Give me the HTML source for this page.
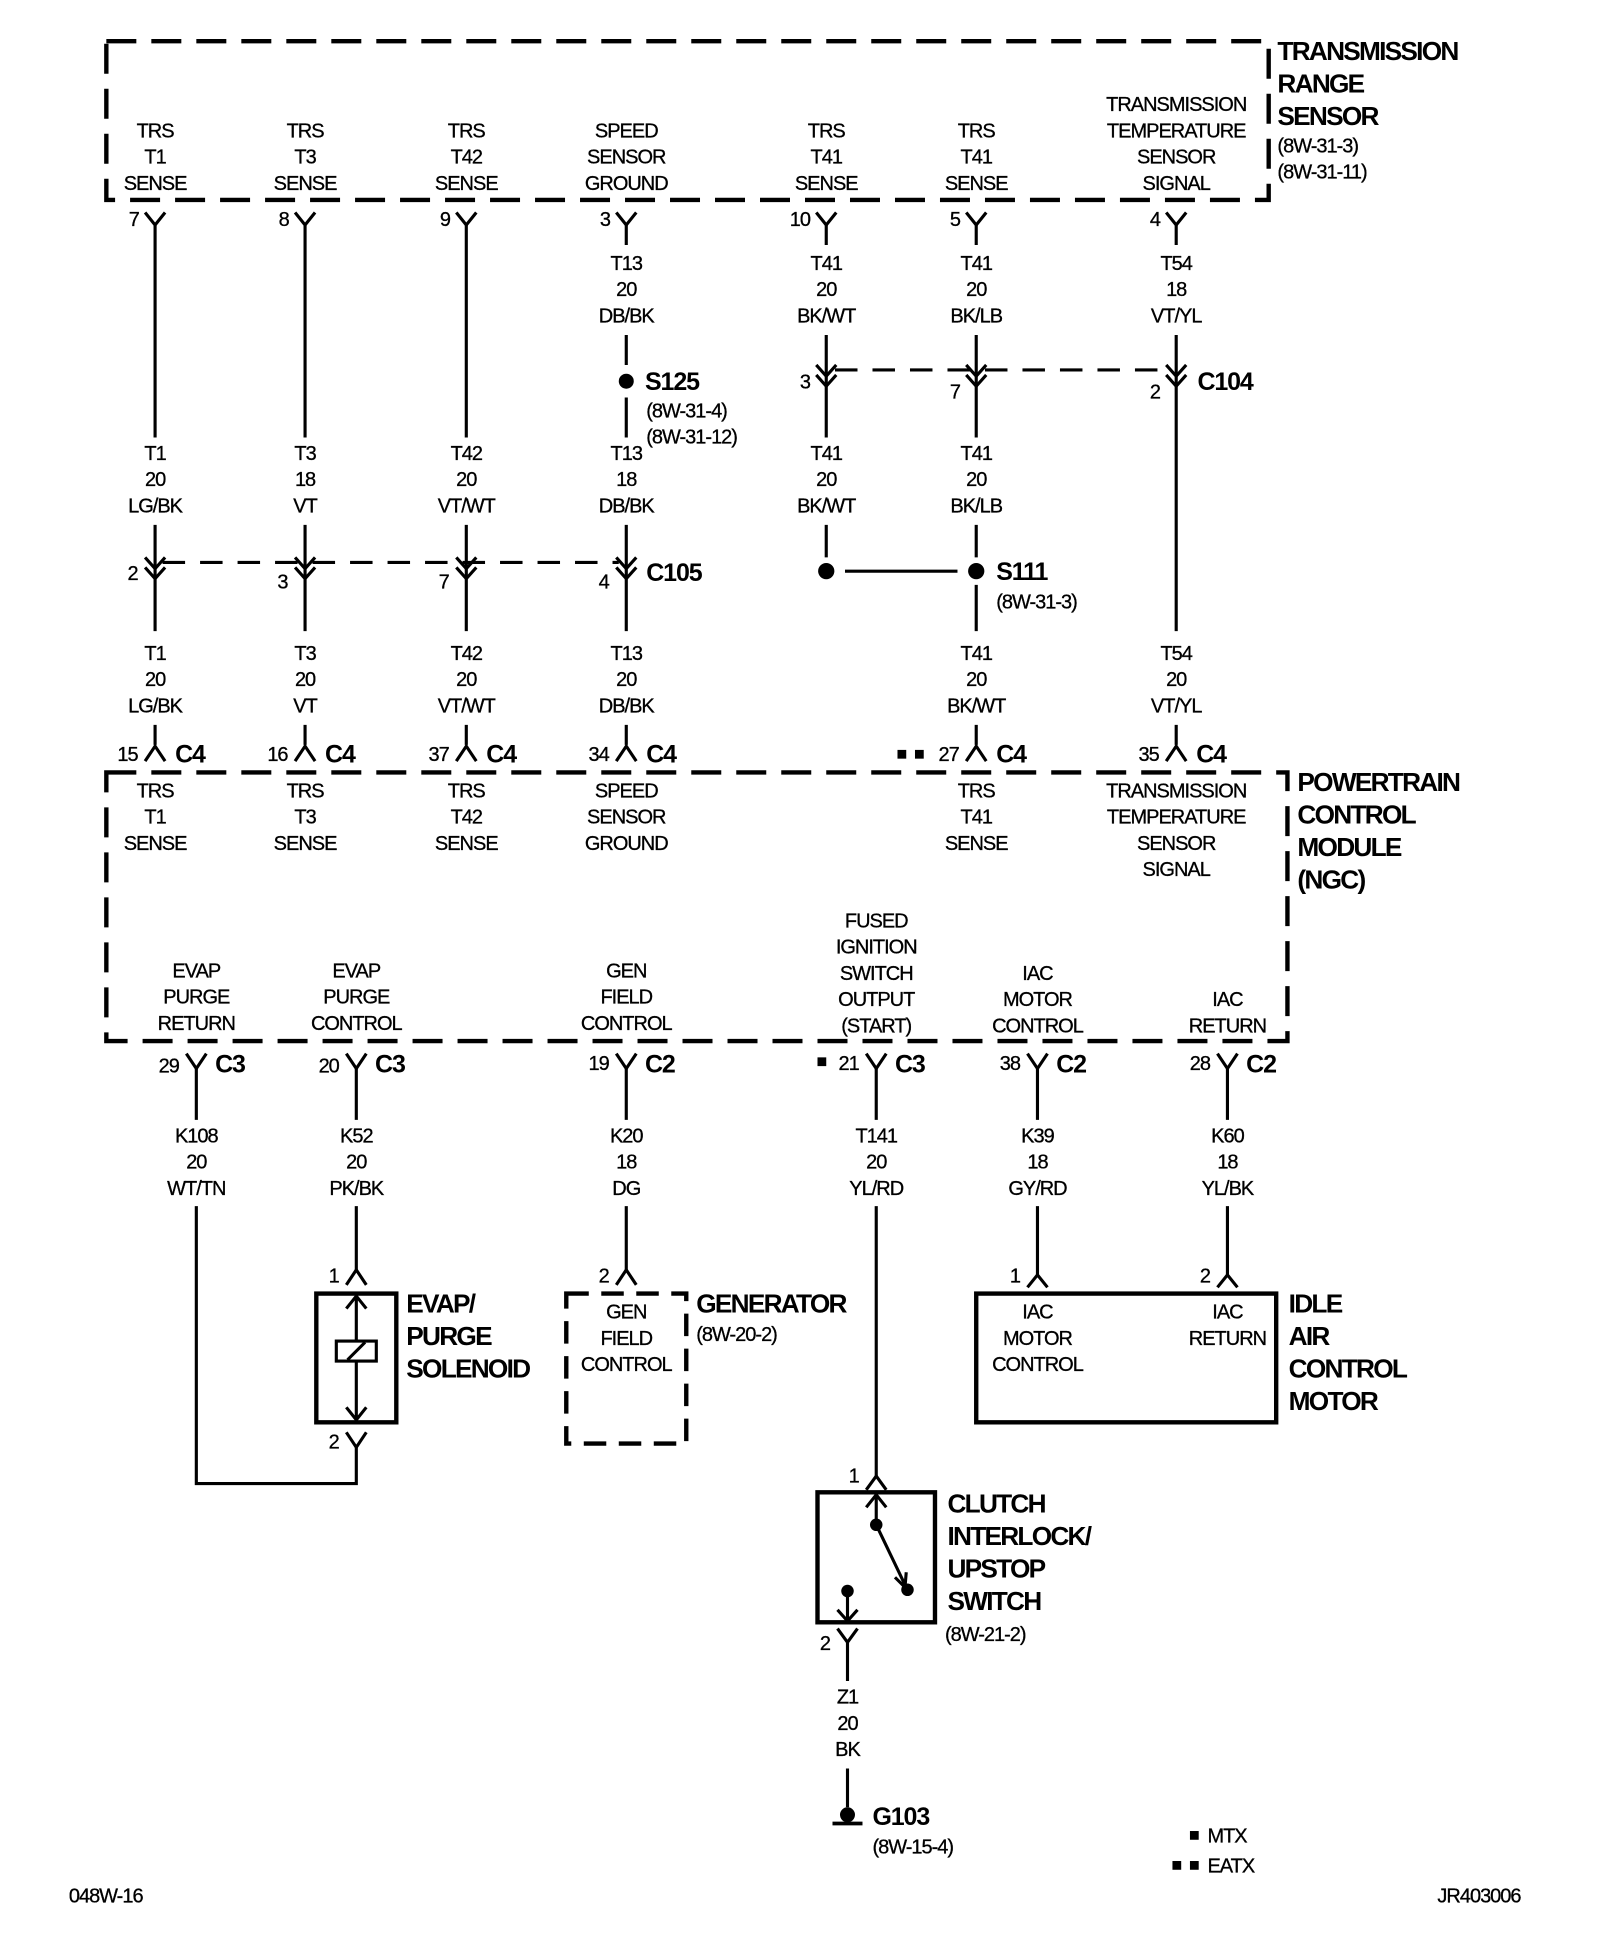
<!DOCTYPE html>
<html><head><meta charset="utf-8"><style>
html,body{margin:0;padding:0;background:#fff;}
svg{display:block}
text{font-family:"Liberation Sans",Arial,sans-serif;font-size:16px;letter-spacing:-0.8px;fill:#000;stroke:#000;stroke-width:0.25px;text-anchor:middle}
.b{font-weight:bold;font-size:21px;text-anchor:start;letter-spacing:-1.4px;stroke-width:0}
.l{text-anchor:start}
.r{text-anchor:end}
.c{font-weight:bold;font-size:20px;text-anchor:start;letter-spacing:-0.9px;stroke-width:0}
</style></head><body>
<svg width="1600" height="1956" viewBox="0 0 1280 1565" xmlns="http://www.w3.org/2000/svg">
<g fill="none" stroke="#000" stroke-width="2.5">
<rect x="85" y="33" width="930" height="127" stroke-width="3.5" stroke-dasharray="24,12"/>
<rect x="85" y="618" width="945" height="215" stroke-width="3.5" stroke-dasharray="24,12"/>
<path d="M116 170L124 180L132 170M236 170L244 180L252 170M365 170L373 180L381 170M493 170L501 180L509 170M653 170L661 180L669 170M773 170L781 180L789 170M933 170L941 180L949 170"/>
<path d="M124 180V350M244 180V350M373 180V350"/>
<path d="M501 180V196M501 268V292M501 318V350M661 180V196M781 180V196M941 180V196"/>
<path d="M661 268V350M781 268V350M941 268V505"/>
<path d="M653 292L661 301L669 292M653 300L661 309L669 300M773 292L781 301L789 292M773 300L781 309L789 300M933 292L941 301L949 292M933 300L941 309L949 300"/>
<path d="M668 296H935" stroke-dasharray="18,12"/>
<path d="M661 420V446M781 420V446M781 468V505M676 457H766"/>
<path d="M124 420V505M244 420V505M373 420V505M501 420V505"/>
<path d="M116 446L124 455L132 446M116 454L124 463L132 454M236 446L244 455L252 446M236 454L244 463L252 454M365 446L373 455L381 446M365 454L373 463L381 454M493 446L501 455L509 446M493 454L501 463L509 454"/>
<path d="M130 450H495" stroke-dasharray="18,12"/>
<path d="M124 580V596M244 580V596M373 580V596M501 580V596M781 580V596M941 580V596"/>
<path d="M116 609L124 597L132 609M236 609L244 597L252 609M365 609L373 597L381 609M493 609L501 597L509 609M773 609L781 597L789 609M933 609L941 597L949 609"/>
<path d="M149 843L157 855L165 843M277 843L285 855L293 843M493 843L501 855L509 843M693 843L701 855L709 843M822 843L830 855L838 843M974 843L982 855L990 843"/>
<path d="M157 855V896M285 855V896M501 855V896M701 855V896M830 855V896M982 855V896"/>
<path d="M157 965V1187H285V1158M285 965V1016M501 965V1016M701 965V1181M830 965V1021M982 965V1021"/>
<path d="M277 1028L285 1016L293 1028M493 1028L501 1016L509 1028M693 1192L701 1181L709 1192M822 1030L830 1020L838 1030M974 1030L982 1020L990 1030"/>
<rect x="253" y="1035" width="64" height="103" stroke-width="3.5"/>
<path d="M285 1037V1136M277 1047L285 1037L293 1047M277 1126L285 1136L293 1126"/>
<rect x="269" y="1073" width="32" height="16" fill="#fff"/>
<path d="M278 1088L292 1074"/>
<path d="M277 1146L285 1158L293 1146"/>
<rect x="453" y="1035" width="96" height="120" stroke-width="3.5" stroke-dasharray="18,10"/>
<rect x="781" y="1035" width="240" height="103" stroke-width="3.5"/>
<rect x="654" y="1194" width="94" height="104" stroke-width="3.5"/>
<path d="M701 1196V1220M693 1206L701 1196L709 1206M701 1220L724 1268M716 1262L724 1270L725 1258"/>
<path d="M678 1273V1297M670 1288L678 1297L686 1288M670 1303L678 1314L686 1303M678 1314V1345M678 1415V1446"/>
<path d="M666 1459H690" stroke-width="3"/>
</g>
<g fill="#000">
<circle cx="501" cy="305" r="6"/>
<circle cx="661" cy="457" r="6.5"/><circle cx="781" cy="457" r="6.5"/>
<circle cx="701" cy="1220" r="5"/><circle cx="726" cy="1272" r="5"/><circle cx="678" cy="1273" r="5"/>
<circle cx="678" cy="1452" r="6"/>
<rect x="718" y="600" width="7" height="7"/><rect x="732" y="600" width="7" height="7"/>
<rect x="654" y="846" width="7" height="7"/>
<rect x="952" y="1465" width="7" height="7"/>
<rect x="938" y="1489" width="7" height="7"/><rect x="952" y="1489" width="7" height="7"/>
</g>
<text x="124" y="110">TRS</text><text x="124" y="131">T1</text><text x="124" y="152">SENSE</text>
<text x="244" y="110">TRS</text><text x="244" y="131">T3</text><text x="244" y="152">SENSE</text>
<text x="373" y="110">TRS</text><text x="373" y="131">T42</text><text x="373" y="152">SENSE</text>
<text x="501" y="110">SPEED</text><text x="501" y="131">SENSOR</text><text x="501" y="152">GROUND</text>
<text x="661" y="110">TRS</text><text x="661" y="131">T41</text><text x="661" y="152">SENSE</text>
<text x="781" y="110">TRS</text><text x="781" y="131">T41</text><text x="781" y="152">SENSE</text>
<text x="941" y="89">TRANSMISSION</text><text x="941" y="110">TEMPERATURE</text><text x="941" y="131">SENSOR</text><text x="941" y="152">SIGNAL</text>
<text class="b" x="1022" y="48">TRANSMISSION</text><text class="b" x="1022" y="74">RANGE</text><text class="b" x="1022" y="100">SENSOR</text>
<text class="l" x="1022" y="122">(8W-31-3)</text><text class="l" x="1022" y="143">(8W-31-11)</text>
<text class="r" x="111" y="181">7</text><text class="r" x="231" y="181">8</text><text class="r" x="360" y="181">9</text><text class="r" x="488" y="181">3</text><text class="r" x="648" y="181">10</text><text class="r" x="768" y="181">5</text><text class="r" x="928" y="181">4</text>
<text x="501" y="216">T13</text><text x="501" y="237">20</text><text x="501" y="258">DB/BK</text>
<text x="661" y="216">T41</text><text x="661" y="237">20</text><text x="661" y="258">BK/WT</text>
<text x="781" y="216">T41</text><text x="781" y="237">20</text><text x="781" y="258">BK/LB</text>
<text x="941" y="216">T54</text><text x="941" y="237">18</text><text x="941" y="258">VT/YL</text>
<text class="c" x="516" y="312">S125</text><text class="l" x="517" y="334">(8W-31-4)</text><text class="l" x="517" y="355">(8W-31-12)</text>
<text class="r" x="648" y="311">3</text><text class="r" x="768" y="319">7</text><text class="r" x="928" y="319">2</text>
<text class="c" x="958" y="312">C104</text>
<text x="124" y="368">T1</text><text x="124" y="389">20</text><text x="124" y="410">LG/BK</text>
<text x="244" y="368">T3</text><text x="244" y="389">18</text><text x="244" y="410">VT</text>
<text x="373" y="368">T42</text><text x="373" y="389">20</text><text x="373" y="410">VT/WT</text>
<text x="501" y="368">T13</text><text x="501" y="389">18</text><text x="501" y="410">DB/BK</text>
<text x="661" y="368">T41</text><text x="661" y="389">20</text><text x="661" y="410">BK/WT</text>
<text x="781" y="368">T41</text><text x="781" y="389">20</text><text x="781" y="410">BK/LB</text>
<text class="r" x="110" y="464">2</text><text class="r" x="230" y="471">3</text><text class="r" x="359" y="471">7</text><text class="r" x="487" y="471">4</text>
<text class="c" x="517" y="465">C105</text>
<text class="c" x="797" y="464">S111</text><text class="l" x="797" y="487">(8W-31-3)</text>
<text x="124" y="528">T1</text><text x="124" y="549">20</text><text x="124" y="570">LG/BK</text>
<text x="244" y="528">T3</text><text x="244" y="549">20</text><text x="244" y="570">VT</text>
<text x="373" y="528">T42</text><text x="373" y="549">20</text><text x="373" y="570">VT/WT</text>
<text x="501" y="528">T13</text><text x="501" y="549">20</text><text x="501" y="570">DB/BK</text>
<text x="781" y="528">T41</text><text x="781" y="549">20</text><text x="781" y="570">BK/WT</text>
<text x="941" y="528">T54</text><text x="941" y="549">20</text><text x="941" y="570">VT/YL</text>
<text class="r" x="110" y="609">15</text><text class="c" x="140" y="610">C4</text>
<text class="r" x="230" y="609">16</text><text class="c" x="260" y="610">C4</text>
<text class="r" x="359" y="609">37</text><text class="c" x="389" y="610">C4</text>
<text class="r" x="487" y="609">34</text><text class="c" x="517" y="610">C4</text>
<text class="r" x="767" y="609">27</text><text class="c" x="797" y="610">C4</text>
<text class="r" x="927" y="609">35</text><text class="c" x="957" y="610">C4</text>
<text x="124" y="638">TRS</text><text x="124" y="659">T1</text><text x="124" y="680">SENSE</text>
<text x="244" y="638">TRS</text><text x="244" y="659">T3</text><text x="244" y="680">SENSE</text>
<text x="373" y="638">TRS</text><text x="373" y="659">T42</text><text x="373" y="680">SENSE</text>
<text x="501" y="638">SPEED</text><text x="501" y="659">SENSOR</text><text x="501" y="680">GROUND</text>
<text x="781" y="638">TRS</text><text x="781" y="659">T41</text><text x="781" y="680">SENSE</text>
<text x="941" y="638">TRANSMISSION</text><text x="941" y="659">TEMPERATURE</text><text x="941" y="680">SENSOR</text><text x="941" y="701">SIGNAL</text>
<text class="b" x="1038" y="633">POWERTRAIN</text><text class="b" x="1038" y="659">CONTROL</text><text class="b" x="1038" y="685">MODULE</text><text class="b" x="1038" y="711">(NGC)</text>
<text x="157" y="782">EVAP</text><text x="157" y="803">PURGE</text><text x="157" y="824">RETURN</text>
<text x="285" y="782">EVAP</text><text x="285" y="803">PURGE</text><text x="285" y="824">CONTROL</text>
<text x="501" y="782">GEN</text><text x="501" y="803">FIELD</text><text x="501" y="824">CONTROL</text>
<text x="701" y="742">FUSED</text><text x="701" y="763">IGNITION</text><text x="701" y="784">SWITCH</text><text x="701" y="805">OUTPUT</text><text x="701" y="826">(START)</text>
<text x="830" y="784">IAC</text><text x="830" y="805">MOTOR</text><text x="830" y="826">CONTROL</text>
<text x="982" y="805">IAC</text><text x="982" y="826">RETURN</text>
<text class="r" x="143" y="858">29</text><text class="c" x="172" y="858">C3</text>
<text class="r" x="271" y="858">20</text><text class="c" x="300" y="858">C3</text>
<text class="r" x="487" y="856">19</text><text class="c" x="516" y="858">C2</text>
<text class="r" x="687" y="856">21</text><text class="c" x="716" y="858">C3</text>
<text class="r" x="816" y="856">38</text><text class="c" x="845" y="858">C2</text>
<text class="r" x="968" y="856">28</text><text class="c" x="997" y="858">C2</text>
<text x="157" y="914">K108</text><text x="157" y="935">20</text><text x="157" y="956">WT/TN</text>
<text x="285" y="914">K52</text><text x="285" y="935">20</text><text x="285" y="956">PK/BK</text>
<text x="501" y="914">K20</text><text x="501" y="935">18</text><text x="501" y="956">DG</text>
<text x="701" y="914">T141</text><text x="701" y="935">20</text><text x="701" y="956">YL/RD</text>
<text x="830" y="914">K39</text><text x="830" y="935">18</text><text x="830" y="956">GY/RD</text>
<text x="982" y="914">K60</text><text x="982" y="935">18</text><text x="982" y="956">YL/BK</text>
<text class="r" x="271" y="1026">1</text><text class="r" x="271" y="1159">2</text>
<text class="b" x="325" y="1050">EVAP/</text><text class="b" x="325" y="1076">PURGE</text><text class="b" x="325" y="1102">SOLENOID</text>
<text class="r" x="487" y="1026">2</text>
<text x="501" y="1055">GEN</text><text x="501" y="1076">FIELD</text><text x="501" y="1097">CONTROL</text>
<text class="b" x="557" y="1050">GENERATOR</text><text class="l" x="557" y="1073">(8W-20-2)</text>
<text class="r" x="816" y="1026">1</text><text class="r" x="968" y="1026">2</text>
<text x="830" y="1055">IAC</text><text x="830" y="1076">MOTOR</text><text x="830" y="1097">CONTROL</text>
<text x="982" y="1055">IAC</text><text x="982" y="1076">RETURN</text>
<text class="b" x="1031" y="1050">IDLE</text><text class="b" x="1031" y="1076">AIR</text><text class="b" x="1031" y="1102">CONTROL</text><text class="b" x="1031" y="1128">MOTOR</text>
<text class="r" x="687" y="1186">1</text><text class="r" x="664" y="1320">2</text>
<text class="b" x="758" y="1210">CLUTCH</text><text class="b" x="758" y="1236">INTERLOCK/</text><text class="b" x="758" y="1262">UPSTOP</text><text class="b" x="758" y="1288">SWITCH</text>
<text class="l" x="756" y="1313">(8W-21-2)</text>
<text x="678" y="1363">Z1</text><text x="678" y="1384">20</text><text x="678" y="1405">BK</text>
<text class="c" x="698" y="1460">G103</text><text class="l" x="698" y="1483">(8W-15-4)</text>
<text class="l" x="966" y="1474">MTX</text><text class="l" x="966" y="1498">EATX</text>
<text class="l" x="55" y="1522">048W-16</text><text class="l" x="1150" y="1522">JR403006</text>
</svg>
</body></html>
